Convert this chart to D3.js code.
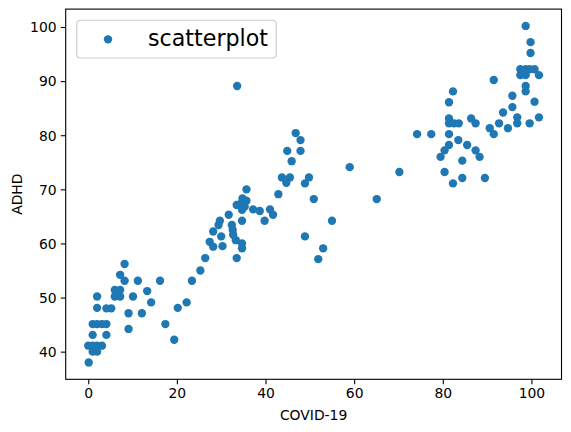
<!DOCTYPE html>
<html>
<head>
<meta charset="utf-8">
<script src="https://cdn.jsdelivr.net/npm/d3@7"></script>
<style>
    body { margin: 0; background: #fff; }
    svg { display: block; }
    text { font-family: 'DejaVu Sans', sans-serif; fill: #000; }
</style>
</head>
<body>
<div id="chart"></div>
<script>
// values
var covid = [
    0.1, 0, 1, 2, 3.1, 1, 2, 1, 4.1, 1, 2, 3.1, 4.1, 2, 4.1, 5.2, 2, 6, 7.2, 6, 7.2, 7.2, 8.2, 8.2, 9.1, 9.1,
    10.1, 11.2, 12.1, 13.3, 14.2, 16.2, 17.4, 19.4, 20.2, 22.2, 23.4, 25.3,
    26.4, 27.4, 28.2, 28.2, 30.3, 30, 29.4, 29.7, 31.7, 32.4, 32.6, 32.7, 33.3, 33.5, 34.7, 34.7, 34.7,
    33.5, 34.5, 35.3, 34.8, 35.7, 34.7, 35.7, 37.2, 38.7, 41.0, 41.7, 39.8, 42.9, 43.7, 45.5, 44.7, 33.6,
    46.8, 47.9, 44.9, 47.9, 45.9, 49.8, 48.9, 50.9, 48.9, 55, 53, 51.9, 59, 65.1, 70.2,
    74.2, 77.4, 82.3, 81.4, 81.4, 81.4, 82.5, 83.6, 86.4, 87.4, 81.4, 83.5, 81.4, 85.5, 80.4, 79.5,
    87.4, 88.3, 84.4, 80.4, 82.3, 84.4, 89.5, 90.6, 91.5, 92.7, 94.7, 93.6, 95.7, 95.7, 91.5, 96.8,
    96.8, 99.6, 101.7, 100.7, 98.7, 98.7, 97.5, 98.7, 99.6, 100.7, 97.5, 98.7, 101.7, 99.8, 99.8, 98.7
];
var adhd = [
    38, 41.1, 41.1, 41.1, 41.1, 40, 40, 43.1, 43.1, 45.1, 45.1, 45.1, 45.1, 48.1, 48, 48, 50.2, 50.2, 50.2, 51.4, 51.4, 54.2, 56.2, 53.1, 47.1, 44.2,
    50.2, 53.1, 47.1, 51.2, 49.1, 53.1, 45.1, 42.2, 48.1, 49.1, 53.1, 55.0,
    57.3, 60.3, 59.4, 62.2, 59.5, 61.3, 63.4, 64.2, 65.3, 63.4, 62.5, 61.6, 60.6, 57.3, 60, 59.1, 64.2,
    67.1, 67.4, 66.8, 68.3, 67.9, 66.2, 70.0, 66.3, 66.0, 66.3, 65.3, 64.2, 69.1, 72.2, 72.2, 71.2, 89.1,
    80.4, 79.1, 77.1, 77.1, 75.2, 72.2, 71.1, 68.2, 61.3, 64.2, 59.1, 57.1, 74.1, 68.2, 73.2,
    80.2, 80.2, 88.1, 86.1, 83.1, 82.2, 82.2, 82.2, 83.1, 82.2, 80.2, 79.1, 78.2, 78.2, 77.2, 76.0,
    77.2, 76.0, 75.3, 73.2, 71.1, 72.1, 72.1, 81.3, 80.2, 82.2, 81.3, 84.2, 85.2, 87.3, 90.2, 83.3,
    82.2, 82.2, 83.3, 86.2, 89.1, 88.1, 92.2, 92.2, 92.2, 92.2, 91.1, 91.1, 91.1, 95.2, 97.2, 100.2
];
var xTicks = [0, 20, 40, 60, 80, 100];
var yTicks = [40, 50, 60, 70, 80, 90, 100];
var xLabel = 'COVID-19';
var yLabel = 'ADHD';
var legendLabel = 'scatterplot';

drawChart();

function drawChart() {
    var W = 571, H = 432;
    var box = { left: 65.7, right: 561.5, top: 9.1, bottom: 379.3 };
    var blue = '#1f77b4';
    var tickLen = 4.9;

    var svg = d3.select('#chart').append('svg')
        .attr('width', W)
        .attr('height', H);

    svg.append('rect').attr('width', W).attr('height', H).attr('fill', '#fff');

    // matplotlib style autoscale: 5% margin around the data
    function padded(vals) {
        var ext = d3.extent(vals);
        var m = (ext[1] - ext[0]) * 0.05;
        return [ext[0] - m, ext[1] + m];
    }

    var x = d3.scaleLinear().domain(padded(covid)).range([box.left, box.right]);
    var y = d3.scaleLinear().domain(padded(adhd)).range([box.bottom, box.top]);

    var pts = covid.map(function (c, i) { return { c: c, a: adhd[i] }; });

    svg.append('g').selectAll('circle')
        .data(pts)
        .enter().append('circle')
        .attr('cx', function (d) { return x(d.c); })
        .attr('cy', function (d) { return y(d.a); })
        .attr('r', 4.17)
        .attr('fill', blue);

    // axes
    var xAxis = d3.axisBottom(x).tickValues(xTicks).tickSize(tickLen).tickPadding(4.2).tickSizeOuter(0);
    var yAxis = d3.axisLeft(y).tickValues(yTicks).tickSize(tickLen).tickPadding(4.2).tickSizeOuter(0);

    var gx = svg.append('g').attr('transform', 'translate(0,' + box.bottom + ')').call(xAxis);
    var gy = svg.append('g').attr('transform', 'translate(' + box.left + ',0)').call(yAxis);

    [gx, gy].forEach(function (g) {
        g.select('.domain').remove();
        g.selectAll('line').attr('stroke', '#000').attr('stroke-width', 1.1);
        g.selectAll('text')
            .style('font-family', "'DejaVu Sans', sans-serif")
            .style('font-size', '13.9px')
            .attr('fill', '#000');
    });
    gy.selectAll('text').attr('dy', '0.35em');

    // frame
    svg.append('rect')
        .attr('x', box.left)
        .attr('y', box.top)
        .attr('width', box.right - box.left)
        .attr('height', box.bottom - box.top)
        .attr('fill', 'none')
        .attr('stroke', '#000')
        .attr('stroke-width', 1.1);

    svg.append('text')
        .attr('x', (box.left + box.right) / 2)
        .attr('y', 420)
        .attr('text-anchor', 'middle')
        .style('font-size', '13.9px')
        .text(xLabel);

    svg.append('text')
        .attr('transform', 'translate(21.5,' + ((box.top + box.bottom) / 2) + ') rotate(-90)')
        .attr('text-anchor', 'middle')
        .style('font-size', '13.9px')
        .text(yLabel);

    // legend
    var lg = svg.append('g');
    lg.append('rect')
        .attr('x', 76.8)
        .attr('y', 20.2)
        .attr('width', 199.5)
        .attr('height', 37.8)
        .attr('rx', 3.5)
        .attr('fill', '#fff')
        .attr('fill-opacity', 0.8)
        .attr('stroke', '#cccccc')
        .attr('stroke-width', 1.1);
    lg.append('circle')
        .attr('cx', 108)
        .attr('cy', 39.3)
        .attr('r', 4.17)
        .attr('fill', blue);
    lg.append('text')
        .attr('x', 148)
        .attr('y', 45.5)
        .style('font-size', '22.2px')
        .text(legendLabel);
}
</script>
</body>
</html>
